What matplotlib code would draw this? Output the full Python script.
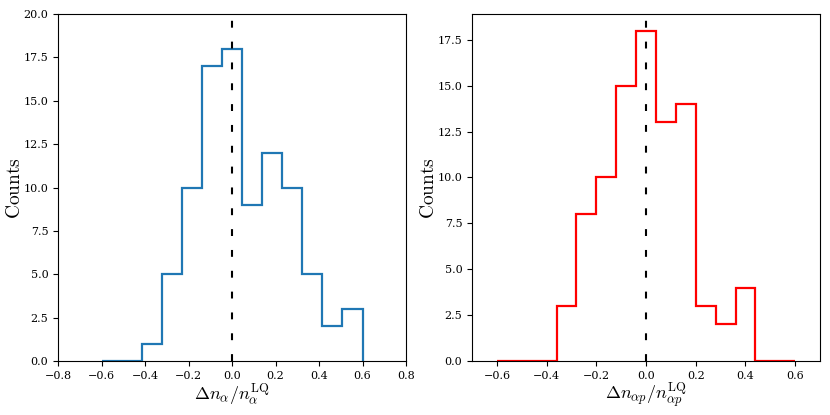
import numpy as np
import matplotlib
matplotlib.use('Agg')
import matplotlib.pyplot as plt

plt.rcParams['font.family'] = 'DejaVu Serif'
plt.rcParams['mathtext.fontset'] = 'cm'

# histogram of relative deviations, alpha
edges_alpha = np.linspace(-0.6, 0.6, 14)
counts_alpha = [0, 0, 1, 5, 10, 17, 18, 9, 12, 10, 5, 2, 3]

# histogram of relative deviations, alpha p
edges_alphap = np.linspace(-0.6, 0.6, 16)
counts_alphap = [0, 0, 0, 3, 8, 10, 15, 18, 13, 14, 3, 2, 4, 0, 0]

fig, (ax1, ax2) = plt.subplots(1, 2, figsize=(8.3, 4.15), dpi=100)
fig.subplots_adjust(left=0.070, right=0.988, bottom=0.130, top=0.966, wspace=0.19)

dash = (0, (3.3, 6.7))

ax1.stairs(counts_alpha, edges_alpha, color='#1f77b4', linewidth=1.6)
ax1.axvline(0, color='black', linestyle=dash, linewidth=1.5)
ax1.set_xlim(-0.8, 0.8)
ax1.set_ylim(0, 20)
ax1.set_xlabel(r'$\Delta n_\alpha / n_\alpha^{\mathrm{LQ}}$', fontsize=13, labelpad=1)
ax1.set_ylabel(r'$\mathrm{Counts}$', fontsize=14, labelpad=0)

ax2.stairs(counts_alphap, edges_alphap, color='red', linewidth=1.6)
ax2.axvline(0, color='black', linestyle=dash, linewidth=1.5)
ax2.set_xlim(-0.7, 0.7)
ax2.set_ylim(0, 18.9)
ax2.set_xticks([-0.6, -0.4, -0.2, 0.0, 0.2, 0.4, 0.6])
ax2.set_xlabel(r'$\Delta n_{\alpha p} / n_{\alpha p}^{\mathrm{LQ}}$', fontsize=13, labelpad=1)
ax2.set_ylabel(r'$\mathrm{Counts}$', fontsize=14, labelpad=0)

for ax in (ax1, ax2):
    ax.tick_params(labelsize=8)

fig.savefig('out.png', dpi=100)
